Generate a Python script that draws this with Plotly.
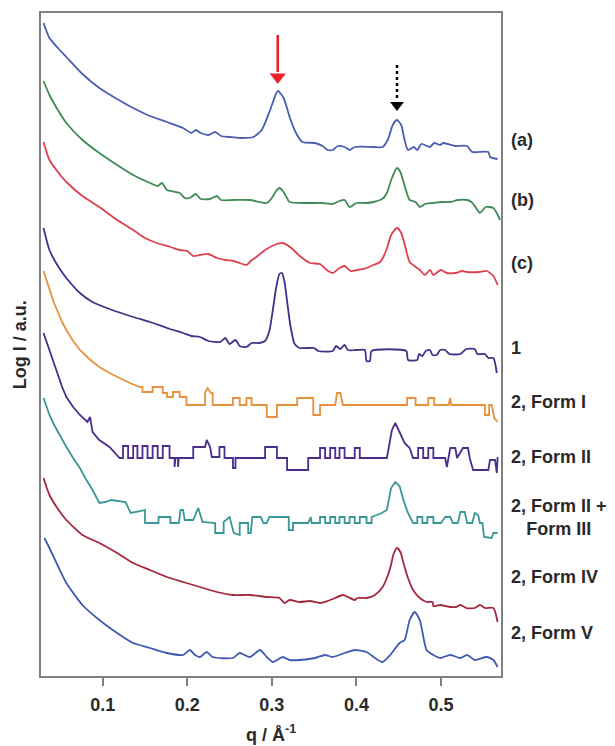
import plotly.graph_objects as go

# q (1/Angstrom), log I (a.u., offset stacked)
trace_names = ["(a)", "(b)", "(c)", "1", "2, Form I", "2, Form II",
               "2, Form II +<br>Form III", "2, Form IV", "2, Form V"]
trace_colors = ["#4a5db3", "#3f8a57", "#de4150", "#3b3489", "#e8913c",
                "#4b2d8d", "#3a9797", "#a2283d", "#4059b2"]
trace_smooth = [True, True, True, True, False, False, False, True, True]
label_y = [53.6, 47.6, 41.3, 32.8, 27.4, 21.9, 15.85, 9.9, 4.3]

a_pts = [(0.030,65.3),(0.037,63.8),(0.047,62.8),(0.057,61.9),(0.076,60.2),(0.096,58.8),(0.117,57.7),(0.136,56.8),(0.156,56.0),(0.176,55.4),(0.195,54.8),(0.205,54.3),(0.210,54.6),(0.216,54.3),(0.225,54.1),(0.233,54.4),(0.240,54.0),(0.250,53.9),(0.262,53.8),(0.278,53.9),(0.288,54.6),(0.298,56.6),(0.307,58.5),(0.314,57.8),(0.321,55.9),(0.328,54.4),(0.336,53.4),(0.351,53.3),(0.360,53.0),(0.366,52.6),(0.372,52.6),(0.378,53.0),(0.386,52.9),(0.392,52.6),(0.398,52.9),(0.420,52.9),(0.431,52.9),(0.437,53.6),(0.443,55.1),(0.448,55.6),(0.453,55.1),(0.457,53.6),(0.461,52.6),(0.468,52.9),(0.472,52.6),(0.477,53.2),(0.487,52.9),(0.492,53.3),(0.499,53.1),(0.503,53.3),(0.517,53.0),(0.531,53.0),(0.537,52.4),(0.556,52.4),(0.558,51.9),(0.567,51.7)]

b_pts = [(0.030,59.5),(0.037,58.1),(0.047,56.6),(0.057,55.3),(0.076,53.6),(0.096,52.3),(0.117,51.1),(0.136,50.1),(0.156,49.3),(0.165,49.0),(0.170,49.3),(0.176,48.6),(0.191,48.3),(0.197,47.8),(0.203,47.8),(0.210,48.2),(0.216,47.7),(0.227,47.7),(0.235,48.0),(0.240,47.6),(0.254,47.6),(0.274,47.6),(0.294,47.3),(0.300,47.8),(0.305,48.5),(0.309,48.8),(0.313,48.5),(0.316,48.1),(0.321,47.4),(0.345,47.3),(0.360,47.3),(0.372,47.2),(0.380,47.5),(0.386,47.6),(0.392,46.9),(0.400,47.3),(0.412,47.3),(0.420,47.4),(0.428,47.6),(0.432,47.8),(0.436,48.3),(0.442,49.8),(0.448,50.8),(0.452,50.4),(0.455,49.6),(0.460,48.2),(0.463,47.6),(0.470,47.4),(0.475,46.9),(0.481,47.2),(0.491,47.3),(0.500,47.4),(0.511,47.4),(0.520,47.6),(0.531,47.6),(0.536,47.4),(0.540,47.0),(0.546,46.3),(0.553,46.9),(0.562,46.8),(0.570,45.6)]

c_pts = [(0.030,53.4),(0.037,51.6),(0.047,50.4),(0.057,49.4),(0.076,48.0),(0.096,46.9),(0.117,45.6),(0.136,44.6),(0.150,43.8),(0.164,43.3),(0.180,42.9),(0.191,42.6),(0.200,42.5),(0.207,42.0),(0.215,42.1),(0.225,42.2),(0.235,41.8),(0.245,41.6),(0.255,41.5),(0.262,41.3),(0.270,41.1),(0.275,41.5),(0.280,41.8),(0.292,42.6),(0.303,43.1),(0.313,43.3),(0.323,42.8),(0.333,42.0),(0.345,41.3),(0.357,41.2),(0.365,40.6),(0.372,40.3),(0.380,40.8),(0.386,41.0),(0.393,40.5),(0.401,40.6),(0.412,40.8),(0.420,41.1),(0.428,41.4),(0.433,42.1),(0.437,43.0),(0.441,44.1),(0.448,44.8),(0.453,44.3),(0.457,43.2),(0.463,41.4),(0.470,40.9),(0.475,40.6),(0.481,40.1),(0.487,40.6),(0.491,40.1),(0.500,40.6),(0.507,40.3),(0.517,40.3),(0.525,40.5),(0.531,40.4),(0.545,40.4),(0.554,40.5),(0.562,40.0),(0.567,39.1)]

s1_pts = [(0.030,44.8),(0.037,42.6),(0.047,41.0),(0.057,39.8),(0.073,38.3),(0.088,37.4),(0.108,36.7),(0.136,35.9),(0.156,35.4),(0.176,34.8),(0.195,34.3),(0.205,34.0),(0.215,33.9),(0.225,33.5),(0.239,33.4),(0.245,33.8),(0.250,33.2),(0.257,33.6),(0.262,33.0),(0.270,32.9),(0.276,33.3),(0.285,33.3),(0.292,33.5),(0.297,34.5),(0.301,36.5),(0.305,38.8),(0.309,40.2),(0.312,40.3),(0.315,39.4),(0.318,37.5),(0.322,35.0),(0.327,33.2),(0.333,32.8),(0.350,32.8),(0.355,32.5),(0.372,32.5),(0.376,33.0),(0.381,32.7),(0.386,33.1),(0.390,32.6),(0.401,32.6),(0.410,32.6),(0.412,31.5),(0.416,31.5),(0.418,32.5),(0.459,32.5),(0.461,31.6),(0.472,31.6),(0.474,32.2),(0.478,32.0),(0.482,32.5),(0.487,32.6),(0.490,32.1),(0.495,32.1),(0.499,32.6),(0.505,32.6),(0.510,32.2),(0.523,32.2),(0.530,32.7),(0.540,32.7),(0.543,32.2),(0.552,32.2),(0.556,31.8),(0.562,31.8),(0.566,30.3)]

f1_pts = [(0.030,40.5),(0.037,38.6),(0.042,37.4),(0.047,36.4),(0.052,35.4),(0.057,34.6),(0.065,33.5),(0.073,32.6),(0.084,31.7),(0.096,30.9),(0.108,30.3),(0.120,29.8),(0.132,29.3),(0.144,28.9),(0.147,28.9),(0.147,28.4),(0.159,28.4),(0.159,28.9),(0.171,28.9),(0.171,28.3),(0.176,28.3),(0.176,27.9),(0.183,27.9),(0.183,28.4),(0.191,28.4),(0.191,27.9),(0.199,27.9),(0.199,27.1),(0.221,27.1),(0.221,28.3),(0.224,28.8),(0.228,28.3),(0.230,28.3),(0.230,27.1),(0.254,27.1),(0.254,27.8),(0.262,27.8),(0.262,27.1),(0.270,27.1),(0.270,27.8),(0.276,27.8),(0.276,27.1),(0.294,27.1),(0.294,25.9),(0.306,25.9),(0.306,27.1),(0.330,27.1),(0.330,27.8),(0.349,27.8),(0.349,26.1),(0.357,26.1),(0.357,27.1),(0.375,27.1),(0.377,28.3),(0.381,28.3),(0.384,27.1),(0.460,27.1),(0.460,27.8),(0.470,27.8),(0.470,27.1),(0.485,27.1),(0.485,27.8),(0.492,27.8),(0.492,27.1),(0.509,27.1),(0.511,27.8),(0.512,27.1),(0.552,27.1),(0.552,26.1),(0.557,26.1),(0.557,27.1),(0.560,27.1),(0.563,25.8),(0.567,25.4)]

f2_pts = [(0.030,34.3),(0.037,32.6),(0.042,31.3),(0.047,30.0),(0.052,28.9),(0.057,27.9),(0.065,26.9),(0.073,26.1),(0.082,25.4),(0.085,25.9),(0.088,24.4),(0.096,23.6),(0.108,22.9),(0.120,21.8),(0.124,21.8),(0.124,23.0),(0.130,23.0),(0.130,21.8),(0.136,21.8),(0.136,23.0),(0.141,23.0),(0.141,21.8),(0.147,21.8),(0.147,23.0),(0.153,23.0),(0.153,21.8),(0.159,21.8),(0.159,23.0),(0.165,23.0),(0.165,21.8),(0.171,21.8),(0.171,23.0),(0.179,23.0),(0.179,21.8),(0.185,21.8),(0.185,20.9),(0.186,21.8),(0.189,21.8),(0.189,20.9),(0.190,21.8),(0.207,21.8),(0.207,22.9),(0.221,22.9),(0.223,23.6),(0.227,22.9),(0.229,21.9),(0.238,21.9),(0.238,22.9),(0.244,22.9),(0.244,21.8),(0.254,21.8),(0.254,20.8),(0.257,20.8),(0.257,21.8),(0.292,21.8),(0.292,22.9),(0.306,22.9),(0.306,21.8),(0.318,21.8),(0.318,20.6),(0.343,20.6),(0.343,21.8),(0.357,21.8),(0.357,22.8),(0.363,22.8),(0.363,21.8),(0.369,21.8),(0.369,22.8),(0.375,22.8),(0.375,21.8),(0.380,21.8),(0.380,22.8),(0.386,22.8),(0.386,21.8),(0.398,21.8),(0.398,22.8),(0.404,22.8),(0.404,21.8),(0.436,21.8),(0.442,24.6),(0.446,25.3),(0.451,24.4),(0.457,23.3),(0.463,22.8),(0.467,21.8),(0.473,21.8),(0.473,22.8),(0.479,22.8),(0.479,21.8),(0.485,21.8),(0.485,22.8),(0.491,22.8),(0.491,21.8),(0.505,21.8),(0.507,20.9),(0.511,22.8),(0.517,22.8),(0.519,21.8),(0.526,22.8),(0.532,22.8),(0.534,21.8),(0.538,20.6),(0.556,20.6),(0.558,21.6),(0.564,21.6),(0.566,20.3),(0.567,21.9)]

f23_pts = [(0.030,27.8),(0.037,26.1),(0.042,25.2),(0.047,24.4),(0.052,23.6),(0.057,22.9),(0.065,21.8),(0.073,20.8),(0.080,19.7),(0.088,18.6),(0.096,17.3),(0.103,17.4),(0.110,17.6),(0.127,17.4),(0.133,16.3),(0.147,16.6),(0.150,16.6),(0.150,15.3),(0.166,15.3),(0.166,15.9),(0.180,15.9),(0.180,15.3),(0.190,15.3),(0.192,16.6),(0.195,16.6),(0.197,15.6),(0.207,15.6),(0.213,16.8),(0.218,15.4),(0.233,15.3),(0.233,14.3),(0.243,14.3),(0.243,15.4),(0.250,15.9),(0.255,14.3),(0.262,14.1),(0.262,15.3),(0.272,15.3),(0.272,14.3),(0.275,14.3),(0.277,15.9),(0.287,15.9),(0.290,15.3),(0.294,15.3),(0.297,15.9),(0.320,15.9),(0.320,14.6),(0.325,14.6),(0.325,15.3),(0.343,15.3),(0.346,15.9),(0.347,15.3),(0.357,15.3),(0.357,15.9),(0.363,15.9),(0.363,15.3),(0.369,15.3),(0.369,15.9),(0.375,15.9),(0.375,15.3),(0.380,15.3),(0.380,15.9),(0.386,15.9),(0.386,15.3),(0.392,15.3),(0.392,15.9),(0.398,15.9),(0.398,15.3),(0.404,15.3),(0.404,15.9),(0.412,15.9),(0.412,15.3),(0.418,15.3),(0.418,15.9),(0.430,16.3),(0.436,16.6),(0.441,18.8),(0.446,19.4),(0.451,19.0),(0.456,17.5),(0.461,16.3),(0.467,15.3),(0.472,15.3),(0.472,15.9),(0.478,15.9),(0.478,15.3),(0.484,15.3),(0.484,15.9),(0.491,15.9),(0.491,15.3),(0.500,15.3),(0.505,15.9),(0.511,15.9),(0.514,15.3),(0.520,15.3),(0.523,16.4),(0.528,16.4),(0.531,15.3),(0.537,15.3),(0.540,16.3),(0.544,16.1),(0.546,15.3),(0.549,15.3),(0.551,13.9),(0.560,13.8),(0.562,14.3),(0.567,14.3)]

f4_pts = [(0.030,19.8),(0.037,18.1),(0.047,16.7),(0.057,15.6),(0.076,14.1),(0.096,13.3),(0.117,12.3),(0.136,11.3),(0.156,10.6),(0.176,9.9),(0.195,9.4),(0.215,8.9),(0.235,8.4),(0.254,8.1),(0.274,8.1),(0.294,7.9),(0.309,7.8),(0.315,7.3),(0.321,7.6),(0.333,7.4),(0.345,7.5),(0.357,7.3),(0.366,7.5),(0.375,7.8),(0.384,8.1),(0.390,7.9),(0.398,7.6),(0.401,7.8),(0.412,7.8),(0.422,8.1),(0.431,8.9),(0.436,9.8),(0.440,10.8),(0.444,12.2),(0.448,12.8),(0.452,12.4),(0.456,11.2),(0.461,9.8),(0.467,8.6),(0.475,7.8),(0.483,7.4),(0.490,7.4),(0.491,7.0),(0.499,7.1),(0.511,6.9),(0.518,6.9),(0.523,7.1),(0.530,6.8),(0.540,6.8),(0.546,7.1),(0.552,6.8),(0.562,6.8),(0.567,5.4)]

f5_pts = [(0.031,13.8),(0.037,12.8),(0.047,11.0),(0.057,9.3),(0.076,7.1),(0.096,5.6),(0.117,4.3),(0.136,3.3),(0.156,2.8),(0.176,2.3),(0.195,2.1),(0.203,2.6),(0.209,2.1),(0.215,1.9),(0.223,2.4),(0.230,1.9),(0.254,1.8),(0.262,2.3),(0.274,1.9),(0.286,2.6),(0.294,1.9),(0.301,1.4),(0.313,1.9),(0.321,1.6),(0.333,1.6),(0.351,1.8),(0.363,2.1),(0.372,1.9),(0.386,2.3),(0.398,2.6),(0.412,2.4),(0.422,1.8),(0.431,1.4),(0.440,2.1),(0.451,3.3),(0.457,3.6),(0.463,5.6),(0.469,6.4),(0.475,5.6),(0.483,2.6),(0.491,2.1),(0.499,1.8),(0.511,2.1),(0.523,1.8),(0.531,2.1),(0.540,1.6),(0.554,1.9),(0.562,1.6),(0.567,0.9)]

series = [a_pts, b_pts, c_pts, s1_pts, f1_pts, f2_pts, f23_pts, f4_pts, f5_pts]

# arrows marking peaks: (q, tail y, head y)
red_arrow = dict(q=0.307, y_tail=64.1, y_head=59.2)
black_arrow = dict(q=0.448, y_tail=61.1, y_head=56.5)

TXT = "#2a2a2a"
FONT = "Liberation Sans, Arial"

fig = go.Figure()
for pts, col, sm in zip(series, trace_colors, trace_smooth):
    fig.add_trace(go.Scatter(x=[p[0] for p in pts], y=[p[1] for p in pts],
                             mode="lines",
                             line=dict(color=col, width=1.8,
                                       shape="spline" if sm else "linear",
                                       smoothing=0.6 if sm else None),
                             showlegend=False, hoverinfo="skip"))

# red solid arrow
fig.add_trace(go.Scatter(x=[red_arrow["q"], red_arrow["q"]],
                         y=[red_arrow["y_tail"], red_arrow["y_head"] + 1.2],
                         mode="lines", line=dict(color="#e8232b", width=2.6),
                         showlegend=False, hoverinfo="skip"))
fig.add_trace(go.Scatter(x=[red_arrow["q"]], y=[red_arrow["y_head"] + 0.7],
                         mode="markers", marker=dict(symbol="triangle-down", size=14, color="#e8232b"),
                         showlegend=False, hoverinfo="skip"))

# dotted black arrow
fig.add_trace(go.Scatter(x=[black_arrow["q"], black_arrow["q"]],
                         y=[black_arrow["y_tail"], black_arrow["y_head"] + 1.2],
                         mode="lines", line=dict(color="black", width=2.5, dash="dot"),
                         showlegend=False, hoverinfo="skip"))
fig.add_trace(go.Scatter(x=[black_arrow["q"]], y=[black_arrow["y_head"] + 0.6],
                         mode="markers", marker=dict(symbol="triangle-down", size=12, color="black"),
                         showlegend=False, hoverinfo="skip"))

for name, ly in zip(trace_names, label_y):
    fig.add_annotation(x=1.0, y=ly, xref="paper", yref="y", xshift=8, xanchor="left",
                       text=name, showarrow=False, align="center",
                       font=dict(family=FONT, size=18, color=TXT, weight="bold"))

# axis titles
fig.add_annotation(x=-0.046, y=0.5, xref="paper", yref="paper", text="Log I / a.u.",
                   textangle=-90, showarrow=False, xanchor="center", yanchor="middle",
                   font=dict(family=FONT, size=18, color=TXT, weight="bold"))
fig.add_annotation(x=0.5, y=-0.086, xref="paper", yref="paper", text="q / Å<sup>-1</sup>",
                   showarrow=False, xanchor="center", yanchor="middle",
                   font=dict(family=FONT, size=18, color=TXT, weight="bold"))

# page body has an 8px margin: figure sized to fit the 615x746 window
fig.update_layout(
    width=607, height=738,
    margin=dict(l=33, r=114, t=5, b=70, autoexpand=False),
    paper_bgcolor="white", plot_bgcolor="white",
    font=dict(family=FONT, size=18, color=TXT),
    xaxis=dict(range=[0.027, 0.571], tickvals=[0.1, 0.2, 0.3, 0.4, 0.5],
               ticktext=["0.1", "0.2", "0.3", "0.4", "0.5"],
               ticks="outside", ticklen=8, tickwidth=2, tickcolor="#808080",
               ticklabelstandoff=3,
               showline=True, linecolor="#808080", linewidth=2, mirror=True,
               showgrid=False, zeroline=False, automargin=False,
               tickfont=dict(family=FONT, size=18, weight="bold", color=TXT)),
    yaxis=dict(range=[0, 66.3], showticklabels=False, ticks="",
               showline=True, linecolor="#808080", linewidth=2, mirror=True,
               showgrid=False, zeroline=False, automargin=False),
)

fig.write_html("out.html")
